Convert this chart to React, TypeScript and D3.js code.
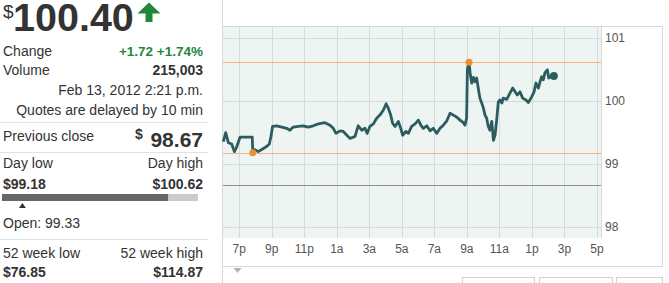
import React from "react";
import * as d3 from "d3";

// ---- Data ----
const priceTimes = [
  "18:01","18:10","18:20","18:32","18:42","18:51","19:03","19:48","19:50","19:58",
  "20:10","20:29","20:41","20:51","20:57","21:03","21:18","21:37","21:55","22:07",
  "22:19","22:38","22:56","23:15","23:33","23:52","00:16","00:35","00:47","00:57",
  "01:12","01:24","01:37","01:49","02:07","02:19","02:32","02:44","02:52","03:02",
  "03:15","03:27","03:39","03:52","04:02","04:10","04:19","04:26","04:35","04:47",
  "04:56","05:03","05:15","05:24","05:36","05:49","06:01","06:10","06:19","06:32",
  "06:44","06:56","07:09","07:21","07:33","07:46","07:58","08:10","08:22","08:35",
  "08:47","08:53","08:59","09:02","09:08","09:12","09:18","09:24","09:30","09:36",
  "09:42","09:48","09:55","10:01","10:07","10:13","10:19","10:25","10:32","10:38",
  "10:44","10:50","10:56","11:02","11:09","11:14","11:27","11:39","11:49","11:58",
  "12:06","12:16","12:26","12:38","12:47","12:59","13:08","13:15","13:24","13:30",
  "13:36","13:42","13:48","13:57","14:02","14:09","14:15","14:21"
];
const priceValues = [
  99.36,99.50,99.34,99.32,99.20,99.28,99.43,99.43,99.18,99.23,
  99.20,99.25,99.28,99.32,99.44,99.60,99.61,99.59,99.57,99.54,
  99.59,99.60,99.61,99.59,99.61,99.64,99.66,99.62,99.57,99.49,
  99.53,99.52,99.46,99.41,99.44,99.61,99.54,99.57,99.49,99.60,
  99.64,99.73,99.78,99.86,99.96,99.89,99.78,99.65,99.60,99.68,
  99.57,99.46,99.52,99.49,99.60,99.64,99.70,99.62,99.57,99.61,
  99.53,99.57,99.49,99.57,99.62,99.69,99.81,99.78,99.75,99.70,
  99.66,99.62,99.73,100.52,100.62,100.45,100.29,100.38,100.31,100.37,
  100.21,100.05,99.97,99.89,99.78,99.73,99.60,99.54,99.68,99.38,
  99.46,99.70,99.99,100.02,99.97,100.05,100.03,100.13,100.21,100.15,
  100.10,100.15,100.05,100.02,99.98,100.07,100.15,100.29,100.21,100.31,
  100.39,100.34,100.45,100.50,100.37,100.40,100.38,100.40
];
const xTickTimes = ["19:00","21:00","23:00","01:00","03:00","05:00","07:00","09:00","11:00","13:00","15:00","17:00"];
const xTickLabels = ["7p","9p","11p","1a","3a","5a","7a","9a","11a","1p","3p","5p"];
const yTicks = [98, 99, 100, 101];
const dayLow = 99.18;
const dayHigh = 100.62;
const dayLowTime = "19:50";
const dayHighTime = "09:08";
const prevClose = 98.67;
const lastPrice = 100.4;
const lastTime = "14:21";
const openPrice = 99.33;
const domainStart = "18:00";
const domainEnd = "17:15";

function parseT(s: string): Date {
  const [h, m] = s.split(":").map(Number);
  return h >= 18 ? new Date(2012, 1, 12, h, m) : new Date(2012, 1, 13, h, m);
}

const FONT = "Liberation Sans, Arial, sans-serif";
const TXT = "#333";
const GREEN = "#23873a";

export default function App() {
  const left = 223, right = 601, top = 27, bottom = 238;
  const x = d3.scaleTime().domain([parseT(domainStart), parseT(domainEnd)]).range([left, right]);
  const y = d3.scaleLinear().domain([97.827, 101.18]).range([bottom, top]);
  const pts: [Date, number][] = priceTimes.map((t, i) => [parseT(t), priceValues[i]]);
  const line = d3.line<[Date, number]>().x(d => x(d[0])).y(d => y(d[1]));

  // left panel range bar
  const barX0 = 2, barX1 = 198;
  const rangeScale = d3.scaleLinear().domain([dayLow, dayHigh]).range([barX0, barX1]);
  const openX = rangeScale(openPrice);

  const lineSep = (yy: number) => <line x1={0} x2={208} y1={yy} y2={yy} stroke="#dde3e6" strokeWidth={1} />;

  return (
    <svg width={669} height={283} style={{ position: "absolute", left: 0, top: 0, fontFamily: FONT }}>
      <rect x={0} y={0} width={669} height={283} fill="#fff" />
      {/* ---- Left panel ---- */}
      <text x={3} y={18} fontSize={19} fill={TXT}>$</text>
      <text x={13} y={31} fontSize={39.5} fontWeight="bold" fill={TXT}>100.40</text>
      <path d="M137.5,13.5 L149,2.5 L160.5,13.5 L152.5,13.5 L152.5,22 L145.5,22 L145.5,13.5 Z" fill={GREEN} />
      <text x={3} y={56} fontSize={14} fill={TXT}>Change</text>
      <text x={203} y={56} fontSize={13.5} fontWeight="bold" fill={GREEN} textAnchor="end">+1.72 +1.74%</text>
      <text x={3} y={75} fontSize={14} fill={TXT}>Volume</text>
      <text x={203} y={75} fontSize={14} fontWeight="bold" fill={TXT} textAnchor="end">215,003</text>
      <text x={203} y={95} fontSize={14} fill={TXT} textAnchor="end">Feb 13, 2012 2:21 p.m.</text>
      <text x={203} y={115} fontSize={14} fill={TXT} textAnchor="end">Quotes are delayed by 10 min</text>
      {lineSep(122.5)}
      <text x={3} y={141} fontSize={14} fill={TXT}>Previous close</text>
      <text x={135} y={139} fontSize={14} fontWeight="bold" fill={TXT}>$</text>
      <text x={203} y={147} fontSize={21} fontWeight="bold" fill={TXT} textAnchor="end">98.67</text>
      {lineSep(152.5)}
      <text x={3} y={168} fontSize={14} fill={TXT}>Day low</text>
      <text x={203} y={168} fontSize={14} fill={TXT} textAnchor="end">Day high</text>
      <text x={3} y={189} fontSize={14} fontWeight="bold" fill={TXT}>$99.18</text>
      <text x={203} y={189} fontSize={14} fontWeight="bold" fill={TXT} textAnchor="end">$100.62</text>
      <rect x={barX0} y={194} width={barX1 - barX0} height={7} fill="#cbcbcb" />
      <rect x={barX0} y={194} width={rangeScale(lastPrice) - barX0} height={7} fill="#666" />
      <path d={`M${openX - 3.5},208 L${openX},203 L${openX + 3.5},208 Z`} fill="#333" />
      <text x={3} y={228} fontSize={14} fill={TXT}>Open: 99.33</text>
      {lineSep(239.5)}
      <text x={3} y={258} fontSize={14} fill={TXT}>52 week low</text>
      <text x={203} y={258} fontSize={14} fill={TXT} textAnchor="end">52 week high</text>
      <text x={3} y={277} fontSize={14} fontWeight="bold" fill={TXT}>$76.85</text>
      <text x={203} y={277} fontSize={14} fontWeight="bold" fill={TXT} textAnchor="end">$114.87</text>

      {/* ---- Chart frame ---- */}
      <line x1={222.5} x2={222.5} y1={0} y2={283} stroke="#d4d9dc" />
      <line x1={222.5} x2={662.5} y1={26.5} y2={26.5} stroke="#d4d9dc" />
      <line x1={662.5} x2={662.5} y1={26.5} y2={266.5} stroke="#d4d9dc" />
      <line x1={222.5} x2={662.5} y1={266.5} y2={266.5} stroke="#d4d9dc" />
      <rect x={left} y={top} width={right - left} height={bottom - top} fill="#eef4f1" />
      {xTickTimes.map((t, i) => (
        <g key={t}>
          <line x1={Math.round(x(parseT(t))) + 0.5} x2={Math.round(x(parseT(t))) + 0.5} y1={top} y2={bottom} stroke="#d3dcd8" />
          <text x={x(parseT(t))} y={253} fontSize={12} fill="#555" textAnchor="middle">{xTickLabels[i]}</text>
        </g>
      ))}
      <line x1={right + 0.5} x2={right + 0.5} y1={top} y2={bottom} stroke="#d3dcd8" />
      {yTicks.map(v => (
        <g key={v}>
          <line x1={left} x2={right} y1={Math.round(y(v)) + 0.5} y2={Math.round(y(v)) + 0.5} stroke="#d3dcd8" />
          <text x={605} y={y(v) + 4} fontSize={12} fill="#555">{v}</text>
        </g>
      ))}
      <line x1={left} x2={right} y1={Math.round(y(dayHigh)) + 0.5} y2={Math.round(y(dayHigh)) + 0.5} stroke="#f2b57f" />
      <line x1={left} x2={right} y1={Math.round(y(dayLow)) + 0.5} y2={Math.round(y(dayLow)) + 0.5} stroke="#f2b57f" />
      <line x1={left} x2={right} y1={Math.round(y(prevClose)) + 0.5} y2={Math.round(y(prevClose)) + 0.5} stroke="#8c9190" />
      <path d={line(pts) || ""} fill="none" stroke="#2b5d60" strokeWidth={2.8} strokeLinejoin="round" />
      <circle cx={x(parseT(dayLowTime))} cy={y(dayLow)} r={3.5} fill="#e8922e" />
      <circle cx={x(parseT(dayHighTime))} cy={y(dayHigh)} r={3.5} fill="#e8922e" />
      <circle cx={x(parseT(lastTime))} cy={y(lastPrice)} r={4} fill="#2b5d60" />

      {/* below chart */}
      <path d="M233.5,268 L241.5,268 L237.5,273 Z" fill="#aab4c0" />
      <rect x={462.5} y={277.5} width={72} height={20} fill="#fff" stroke="#cfd4d8" />
      <rect x={539.5} y={277.5} width={73} height={20} fill="#fff" stroke="#cfd4d8" />
      <rect x={616.5} y={277.5} width={46} height={20} fill="#fff" stroke="#cfd4d8" />
    </svg>
  );
}
